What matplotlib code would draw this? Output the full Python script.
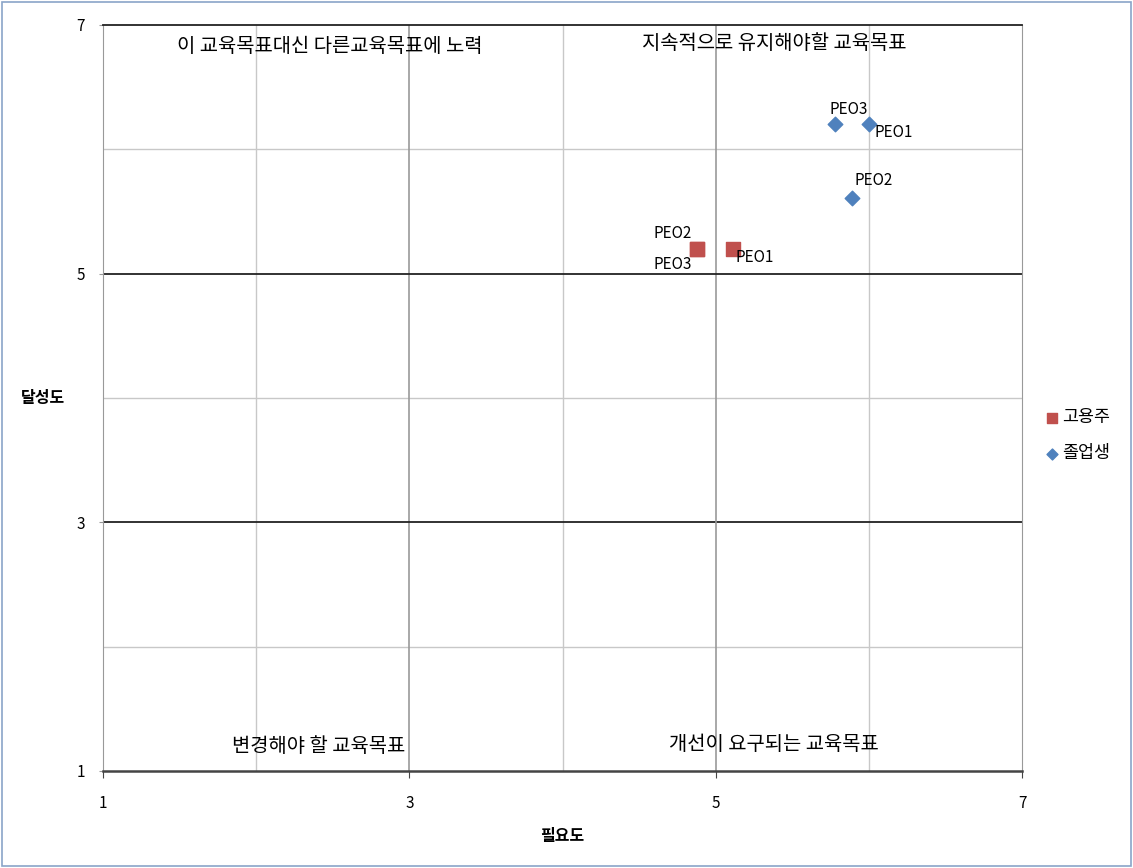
import numpy as np
import matplotlib
matplotlib.use('Agg')
import matplotlib.pyplot as plt
from matplotlib.patches import Rectangle

plt.rcParams['font.family'] = ['Noto Sans CJK KR', 'DejaVu Sans']

# 고용주 (employers)
emp_labels = ['PEO1', 'PEO2', 'PEO3']
emp_need = [5.11, 4.88, 4.88]
emp_achieve = [5.20, 5.20, 5.20]

# 졸업생 (graduates)
grad_labels = ['PEO1', 'PEO2', 'PEO3']
grad_need = [6.00, 5.89, 5.78]
grad_achieve = [6.20, 5.61, 6.20]

ticks = [1, 3, 5, 7]
minor = [2, 4, 6]

quad_texts = ['이 교육목표대신 다른교육목표에 노력', '지속적으로 유지해야할 교육목표',
              '변경해야 할 교육목표', '개선이 요구되는 교육목표']

fig = plt.figure(figsize=(11.33, 8.68), dpi=100)
fig.patches.append(Rectangle((0.002, 0.002), 0.996, 0.996, transform=fig.transFigure,
                             fill=False, edgecolor='#8aa4c8', linewidth=1.2))
ax = fig.add_axes([0.0909, 0.1118, 0.8112, 0.8594])
ax.set_xlim(1, 7)
ax.set_ylim(1, 7)

# gridlines
for v in minor:
    ax.axvline(v, color='#c8c8c8', lw=1, zorder=0)
    ax.axhline(v, color='#c8c8c8', lw=1, zorder=0)
for v in [3, 5]:
    ax.axvline(v, color='#999999', lw=1.2, zorder=0)
    ax.axhline(v, color='#222222', lw=1.3, zorder=0)

for s in ['left', 'right']:
    ax.spines[s].set_color('#999999')
ax.spines['top'].set_color('#222222')
ax.spines['top'].set_linewidth(1.3)
ax.spines['bottom'].set_color('#444444')
ax.spines['bottom'].set_linewidth(1.8)

ax.set_xticks(ticks)
ax.set_yticks(ticks)
ax.tick_params(axis='x', direction='out', length=5, pad=12, labelsize=11, color='#444444')
ax.tick_params(axis='y', direction='out', length=3, pad=10, labelsize=11, color='#999999')

ax.scatter(emp_need, emp_achieve, marker='s', s=110, color='#c0504d', zorder=3, label='고용주')
ax.scatter(grad_need, grad_achieve, marker='D', s=55, color='#4f81bd', zorder=3, label='졸업생')

# data labels
emp_off = {'PEO1': (2, -6, 'left', 'center'), 'PEO2': (-4, 5, 'right', 'bottom'),
           'PEO3': (-4, -5, 'right', 'top')}
for lab, x, y in zip(emp_labels, emp_need, emp_achieve):
    dx, dy, ha, va = emp_off[lab]
    ax.annotate(lab, (x, y), xytext=(dx, dy), textcoords='offset points',
                ha=ha, va=va, fontsize=11)
grad_off = {'PEO1': (4, -6, 'left', 'center'), 'PEO2': (2, 6, 'left', 'bottom'),
            'PEO3': (-4, 5, 'left', 'bottom')}
for lab, x, y in zip(grad_labels, grad_need, grad_achieve):
    dx, dy, ha, va = grad_off[lab]
    ax.annotate(lab, (x, y), xytext=(dx, dy), textcoords='offset points',
                ha=ha, va=va, fontsize=11)

ax.text(2.48, 6.83, quad_texts[0], ha='center', va='center', fontsize=14.3)
ax.text(5.38, 6.85, quad_texts[1], ha='center', va='center', fontsize=14.3)
ax.text(2.41, 1.20, quad_texts[2], ha='center', va='center', fontsize=14.3)
ax.text(5.38, 1.21, quad_texts[3], ha='center', va='center', fontsize=14.3)

ax.set_xlabel('필요도', fontsize=11.5, fontweight='bold', labelpad=12)
ax.set_ylabel('달성도', fontsize=11.5, fontweight='bold', rotation=0, labelpad=24, va='center')

ax.legend(loc='center left', bbox_to_anchor=(1.01, 0.45), frameon=False, fontsize=12.5,
          handletextpad=0.05, handlelength=1.0, labelspacing=1.05, borderpad=0.2,
          markerscale=0.75)

fig.savefig('out.png', dpi=100)
